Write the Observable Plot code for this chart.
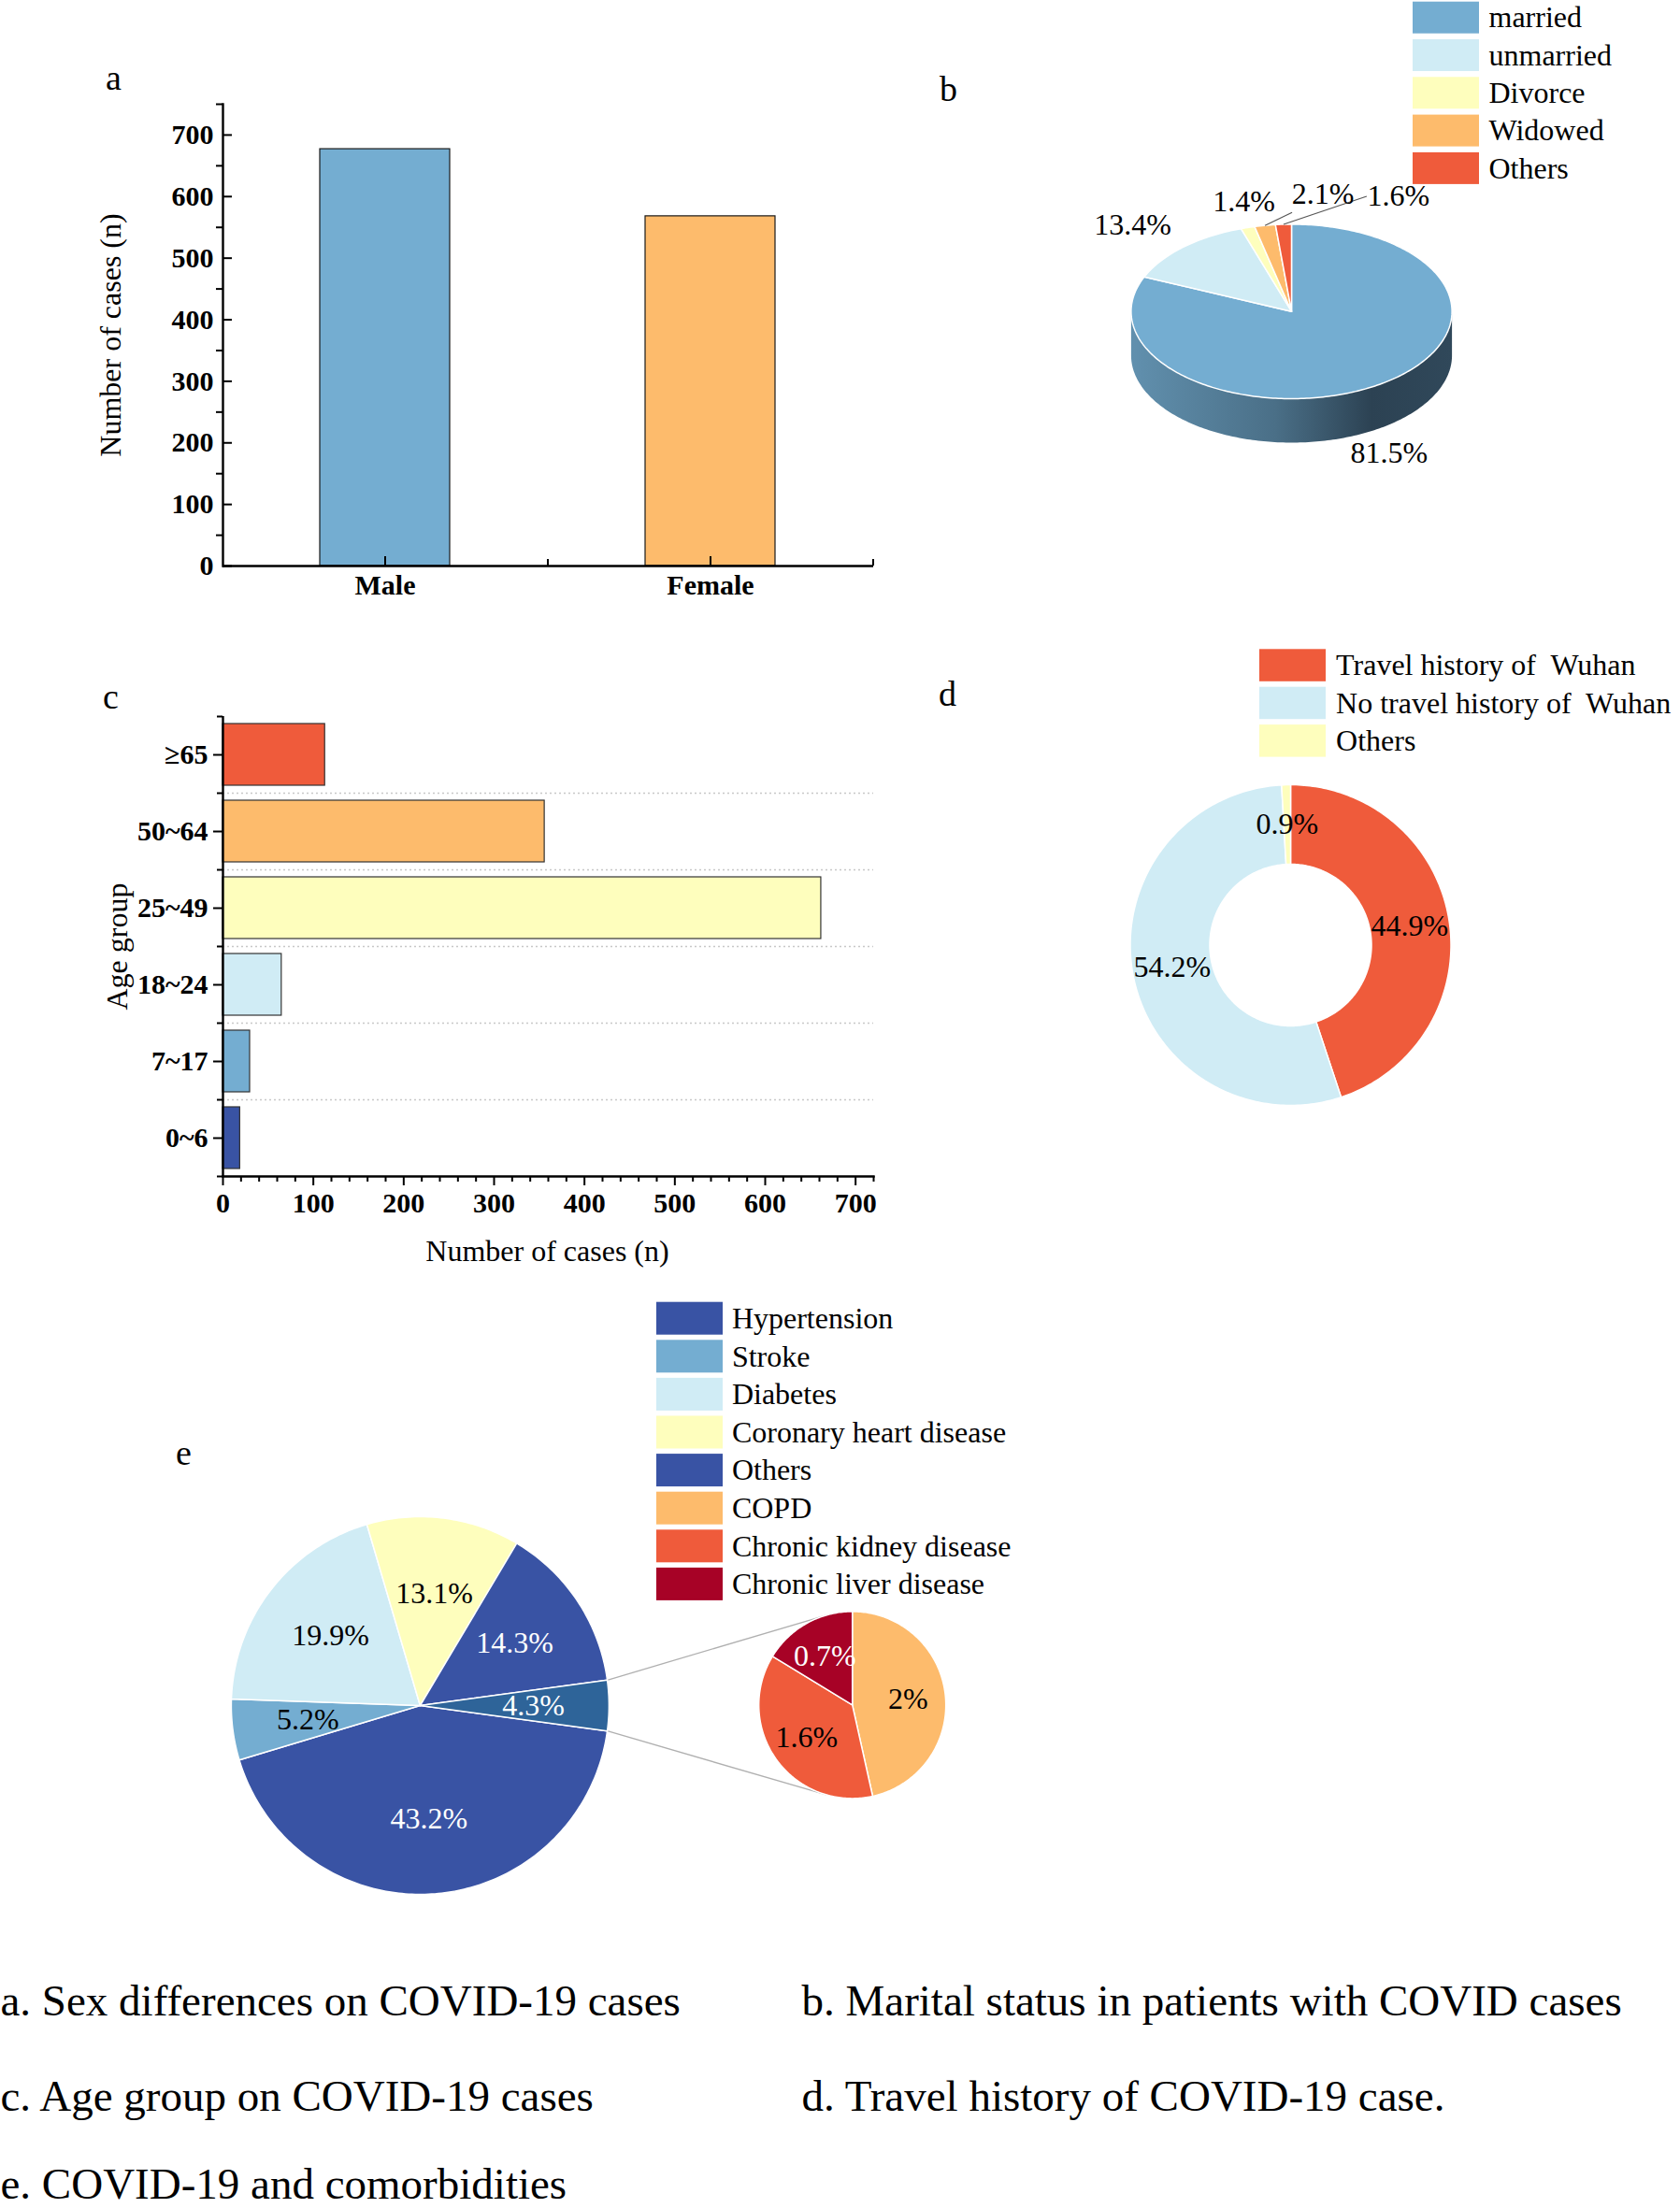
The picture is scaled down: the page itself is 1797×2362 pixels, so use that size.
<!DOCTYPE html>
<html><head><meta charset="utf-8">
<script src="https://cdn.jsdelivr.net/npm/d3@7"></script>
<script src="https://cdn.jsdelivr.net/npm/@observablehq/plot@0.6"></script>
<style>
html,body{margin:0;padding:0;background:#fff;}
#fig{position:relative;width:1797px;height:2362px;overflow:hidden;background:#fff;font-family:"Liberation Serif","Times New Roman",serif;}
svg text{white-space:pre;}
</style></head><body><div id="fig"></div>
<script>
const SERIF = '"Liberation Serif","Times New Roman",serif';

// ---------------- data ----------------
const sexCategories = ["Male", "Female"];
const sexCases = [677, 568];
const sexColors = ["#74add1", "#fdbb6c"];
const countTicks = [0, 100, 200, 300, 400, 500, 600, 700];

const ageGroups = ["0~6", "7~17", "18~24", "25~49", "50~64", "≥65"];
const ageCases = [19, 30, 65, 662, 356, 113];
const ageColors = ["#3953a4", "#74add1", "#d0ecf5", "#fefebd", "#fdbb6c", "#ef5b3b"];

const maritalLabels = ["married", "unmarried", "Divorce", "Widowed", "Others"];
const maritalPct = [81.5, 13.4, 1.4, 2.1, 1.6];
const maritalColors = ["#74add1", "#d0ecf5", "#fefebd", "#fdbb6c", "#ef5b3b"];

const travelLabels = ["Travel history of  Wuhan", "No travel history of  Wuhan", "Others"];
const travelPct = [44.9, 54.2, 0.9];
const travelColors = ["#ef5b3b", "#d0ecf5", "#fefebd"];

const comorbLabels = ["Hypertension", "Stroke", "Diabetes", "Coronary heart disease", "Others", "COPD", "Chronic kidney disease", "Chronic liver disease"];
const comorbPct = [43.2, 5.2, 19.9, 13.1, 14.3, 2, 1.6, 0.7];
const comorbColors = ["#3953a4", "#74add1", "#d0ecf5", "#fefebd", "#3953a4", "#fdbb6c", "#ef5b3b", "#a70226"];
const comorbInSubPie = [false, false, false, false, false, true, true, true];
const subPieSliceColor = "#2e6499";

const panelLetters = ["a", "b", "c", "d", "e"];
const captions = ["a. Sex differences on COVID-19 cases", "b. Marital status in patients with COVID cases",
  "c. Age group on COVID-19 cases", "d. Travel history of COVID-19 case.", "e. COVID-19 and comorbidities"];

// ---------------- layout ----------------
const L = {
  a: {left: 0, top: 60, width: 960, height: 620, mL: 238, mR: 26, mT: 51, mB: 75, yMax: 750},
  c: {left: 0, top: 740, width: 960, height: 640, mL: 238, mR: 26, mT: 26, mB: 122, xMax: 720},
  b: {cx: 1381, cy: 332.7, rx: 171.6, ry: 93.3, depth: 47},
  d: {cx: 1380, cy: 1010.5, r: 171.5, r0: 86.5},
  e: {cx: 448.9, cy: 1824, r: 202, scx: 911.2, scy: 1823.4, sr: 100},
  bLegend: {x1: 1511, x2: 1582, tx: 1592, top: 1.7, pitch: 40.3, h: 34},
  dLegend: {x1: 1347, x2: 1418, tx: 1428.6, top: 694.3, pitch: 40.4, h: 34.5},
  eLegend: {x1: 702, x2: 773, tx: 782.4, top: 1392.7, pitch: 40.6, h: 35},
  bLabelNudge: [[10, 27], [-54, -24], [-4, -28], [62, -33], [123, -30]],
  bLeaderEnd: [null, null, null, [-33, 19], [-34, 0]],
  letters: [[121, 95.4], [1014, 107.3], [118, 757], [1013, 754], [196, 1566]],
  captionPos: [[0, 2155], [857, 2155], [0, 2257], [857, 2257], [0, 2351]],
  yTitleA: [118, 358], yTitleC: [125, 1012], xTitleC: [585, 1338]
};

const fig = document.getElementById("fig");
const styleFor = (l, t) => `position:absolute;left:${l}px;top:${t}px;background:transparent;overflow:visible;font-family:${SERIF};`;

// ---------------- panel a ----------------
{
  const A = L.a, FW = A.width - A.mL - A.mR, FH = A.height - A.mT - A.mB;
  const step = FW / sexCategories.length;
  const data = sexCategories.map((c, i) => ({c, n: sexCases[i], color: sexColors[i]}));
  const minor = d3.range(50, A.yMax + 1, 100);
  fig.append(Plot.plot({
    width: A.width, height: A.height, marginLeft: A.mL, marginRight: A.mR, marginTop: A.mT, marginBottom: A.mB,
    style: styleFor(A.left, A.top),
    x: {type: "band", domain: sexCategories, paddingInner: 0.6, paddingOuter: 0.3},
    y: {domain: [0, A.yMax]},
    color: {type: "identity"},
    marks: [
      Plot.barY(data, {x: "c", y: "n", fill: "color", stroke: "#1a1a1a", strokeWidth: 1.2}),
      Plot.frame({anchor: "left", stroke: "#000", strokeWidth: 2.4}),
      Plot.ruleY([0], {stroke: "#000", strokeWidth: 2.4}),
      Plot.tickY(countTicks, {y: d => d, insetRight: FW - 10, stroke: "#000", strokeWidth: 2}),
      Plot.tickY(minor, {y: d => d, insetRight: FW - 7, dx: -7, stroke: "#000", strokeWidth: 2}),
      Plot.tickX(sexCategories, {x: d => d, insetTop: FH - 10, stroke: "#000", strokeWidth: 2}),
      Plot.tickX(sexCategories, {x: d => d, dx: step / 2, insetTop: FH - 7, stroke: "#000", strokeWidth: 2}),
      Plot.axisY({ticks: countTicks, tickSize: 0, tickPadding: 10, fontSize: 30, fontWeight: "bold", fontFamily: SERIF, label: null}),
      Plot.axisX({tickSize: 0, tickPadding: 9, fontSize: 30, fontWeight: "bold", fontFamily: SERIF, label: null})
    ]
  }));
}

// ---------------- panel c ----------------
{
  const C = L.c, FW = C.width - C.mL - C.mR, FH = C.height - C.mT - C.mB;
  const order = ageGroups.slice().reverse();
  const step = FH / ageGroups.length;
  const data = ageGroups.map((g, i) => ({g, n: ageCases[i], color: ageColors[i]}));
  const minor = d3.range(0, C.xMax + 1, 20).filter(v => v % 100 !== 0);
  fig.append(Plot.plot({
    width: C.width, height: C.height, marginLeft: C.mL, marginRight: C.mR, marginTop: C.mT, marginBottom: C.mB,
    style: styleFor(C.left, C.top),
    x: {domain: [0, C.xMax]},
    y: {type: "band", domain: order, paddingInner: 0.2, paddingOuter: 0.1},
    color: {type: "identity"},
    marks: [
      Plot.ruleY(order.slice(0, -1), {y: d => d, dy: step / 2, stroke: "#c8c8c8", strokeWidth: 1.3, strokeDasharray: "2,3"}),
      Plot.barX(data, {x: "n", y: "g", fill: "color", stroke: "#333", strokeWidth: 1.2}),
      Plot.frame({anchor: "bottom", stroke: "#000", strokeWidth: 2.4}),
      Plot.ruleX([0], {stroke: "#000", strokeWidth: 2.4}),
      Plot.tickY(order, {y: d => d, insetRight: FW - 10, dx: -10, stroke: "#000", strokeWidth: 2}),
      Plot.tickY(order, {y: d => d, dy: step / 2, insetRight: FW - 6, dx: -6, stroke: "#000", strokeWidth: 2}),
      Plot.tickY(order.slice(0, 1), {y: d => d, dy: -step / 2, insetRight: FW - 6, dx: -6, stroke: "#000", strokeWidth: 2}),
      Plot.tickX(countTicks, {x: d => d, insetTop: FH - 10, dy: 10, stroke: "#000", strokeWidth: 2}),
      Plot.tickX(minor, {x: d => d, insetTop: FH - 6, dy: 6, stroke: "#000", strokeWidth: 2}),
      Plot.axisY({tickSize: 0, tickPadding: 16, fontSize: 30, fontWeight: "bold", fontFamily: SERIF, label: null}),
      Plot.axisX({ticks: countTicks, tickSize: 0, tickPadding: 17, fontSize: 30, fontWeight: "bold", fontFamily: SERIF, label: null})
    ]
  }));
}

// ---------------- pies (overlay) ----------------
function angles(values, start = 0) {
  const tot = d3.sum(values);
  let a = start;
  return values.map(v => { const a0 = a; a += v / tot * 360; return [a0, a]; });
}
function ell(cx, cy, rx, ry, deg) {
  const a = deg * Math.PI / 180;
  return [cx + rx * Math.sin(a), cy - ry * Math.cos(a)];
}
function arcPts(cx, cy, rx, ry, a0, a1) {
  const n = Math.max(2, Math.ceil(Math.abs(a1 - a0)) + 1);
  return d3.range(n).map(i => ell(cx, cy, rx, ry, a0 + (a1 - a0) * i / (n - 1)));
}
function slicePoly(key, color, cx, cy, rx, ry, a0, a1, r0 = 0) {
  let pts;
  if (r0 > 0) {
    const k = r0 / rx;
    pts = [...arcPts(cx, cy, rx, ry, a0, a1), ...arcPts(cx, cy, rx * k, ry * k, a1, a0)];
    pts.push(pts[0]);
  } else {
    pts = [[cx, cy], ...arcPts(cx, cy, rx, ry, a0, a1), [cx, cy]];
  }
  return pts.map(([x, y]) => ({key, color, x, y}));
}
function tangentPoint(P, C, r, sign) {
  const dx = C[0] - P[0], dy = C[1] - P[1], d = Math.hypot(dx, dy);
  const a = Math.atan2(dy, dx) + sign * Math.asin(r / d), len = Math.sqrt(d * d - r * r);
  return [P[0] + len * Math.cos(a), P[1] + len * Math.sin(a)];
}
const pct = v => `${Math.round(v * 10) / 10}%`;
const textOn = c => d3.hsl(c).l < 0.5 ? "#fff" : "#000";

const marks = [];
// gradient defs for the 3D side
marks.push(() => {
  const g = d3.create("svg:g");
  const lg = g.append("defs").append("linearGradient").attr("id", "sideGrad")
    .attr("x1", 0).attr("x2", 1).attr("y1", 0).attr("y2", 0);
  [[0, "#6190ae"], [0.45, "#4a6f87"], [0.75, "#2c4253"], [1, "#30485a"]]
    .forEach(([o, c]) => lg.append("stop").attr("offset", o).attr("stop-color", c));
  return g.node();
});

// ---- panel b: 3D pie ----
{
  const B = L.b;
  const ang = angles(maritalPct, 0);
  const side = [], top = [], labels = [], leaders = [];
  ang.forEach(([a0, a1], i) => {
    const s0 = Math.max(a0, 90), s1 = Math.min(a1, 270);
    if (s1 > s0) {
      const pts = [...arcPts(B.cx, B.cy, B.rx, B.ry, s0, s1), ...arcPts(B.cx, B.cy + B.depth, B.rx, B.ry, s1, s0)];
      pts.push(pts[0]);
      pts.forEach(([x, y]) => side.push({key: maritalLabels[i], x, y}));
    }
    top.push(...slicePoly(maritalLabels[i], maritalColors[i], B.cx, B.cy, B.rx, B.ry, a0, a1));
    const m = (a0 + a1) / 2;
    const rim = ell(B.cx, B.cy, B.rx, B.ry, m);
    if (m > 90 && m < 270) rim[1] += B.depth;
    const [nx, ny] = L.bLabelNudge[i];
    const lx = rim[0] + nx, ly = rim[1] + ny;
    labels.push({x: lx, y: ly, t: pct(maritalPct[i])});
    const le = L.bLeaderEnd[i];
    if (le) leaders.push({x1: rim[0], y1: rim[1], x2: lx + le[0], y2: ly + le[1]});
  });
  marks.push(Plot.line(side, {x: "x", y: "y", z: "key", fill: "url(#sideGrad)", stroke: "none"}));
  marks.push(Plot.line(top, {x: "x", y: "y", z: "key", fill: "color", stroke: "#fff", strokeWidth: 1.5, strokeLinejoin: "round"}));
  marks.push(Plot.link(leaders, {x1: "x1", y1: "y1", x2: "x2", y2: "y2", stroke: "#555", strokeWidth: 1.2}));
  marks.push(Plot.text(labels, {x: "x", y: "y", text: "t", fontSize: 32, fontFamily: SERIF, fill: "#000"}));
}

// ---- panel d: donut ----
{
  const D = L.d;
  const ang = angles(travelPct, 0);
  const polys = [], labels = [];
  ang.forEach(([a0, a1], i) => {
    polys.push(...slicePoly(travelLabels[i], travelColors[i], D.cx, D.cy, D.r, D.r, a0, a1, D.r0));
    const [x, y] = ell(D.cx, D.cy, (D.r + D.r0) / 2, (D.r + D.r0) / 2, (a0 + a1) / 2);
    labels.push({x, y, t: pct(travelPct[i])});
  });
  marks.push(Plot.line(polys, {x: "x", y: "y", z: "key", fill: "color", stroke: "#fff", strokeWidth: 1.5, strokeLinejoin: "round"}));
  marks.push(Plot.text(labels, {x: "x", y: "y", text: "t", fontSize: 32, fontFamily: SERIF, fill: "#000"}));
}

// ---- panel e: pie of pie ----
{
  const E = L.e;
  const mainIdx = comorbPct.map((v, i) => i).filter(i => !comorbInSubPie[i]);
  const subIdx = comorbPct.map((v, i) => i).filter(i => comorbInSubPie[i]);
  const subTotal = d3.sum(subIdx, i => comorbPct[i]);
  const mainVals = [...mainIdx.map(i => comorbPct[i]), subTotal];
  const mainKeys = [...mainIdx.map(i => comorbLabels[i]), "subgroup"];
  const mainCols = [...mainIdx.map(i => comorbColors[i]), subPieSliceColor];
  const groupSpan = subTotal / d3.sum(mainVals) * 360;
  const ang = angles(mainVals, 90 + groupSpan / 2);
  const polys = [], labels = [];
  ang.forEach(([a0, a1], i) => {
    polys.push(...slicePoly(mainKeys[i], mainCols[i], E.cx, E.cy, E.r, E.r, a0, a1));
    const [x, y] = ell(E.cx, E.cy, E.r * 0.6, E.r * 0.6, (a0 + a1) / 2);
    labels.push({x, y, t: pct(mainVals[i]), c: textOn(mainCols[i])});
  });
  const subAng = angles(subIdx.map(i => comorbPct[i]), 0);
  subAng.forEach(([a0, a1], j) => {
    const i = subIdx[j];
    polys.push(...slicePoly(comorbLabels[i] + "-sub", comorbColors[i], E.scx, E.scy, E.sr, E.sr, a0, a1));
    const [x, y] = ell(E.scx, E.scy, E.sr * 0.6, E.sr * 0.6, (a0 + a1) / 2);
    labels.push({x, y, t: pct(comorbPct[i]), c: textOn(comorbColors[i])});
  });
  const [g0, g1] = ang[ang.length - 1];
  const P1 = ell(E.cx, E.cy, E.r, E.r, g0), P2 = ell(E.cx, E.cy, E.r, E.r, g1);
  const T1 = tangentPoint(P1, [E.scx, E.scy], E.sr, -1), T2 = tangentPoint(P2, [E.scx, E.scy], E.sr, 1);
  const links = [{x1: P1[0], y1: P1[1], x2: T1[0], y2: T1[1]}, {x1: P2[0], y1: P2[1], x2: T2[0], y2: T2[1]}];
  marks.push(Plot.link(links, {x1: "x1", y1: "y1", x2: "x2", y2: "y2", stroke: "#b0b0b0", strokeWidth: 1.3}));
  marks.push(Plot.line(polys, {x: "x", y: "y", z: "key", fill: "color", stroke: "#fff", strokeWidth: 1.5, strokeLinejoin: "round"}));
  marks.push(Plot.text(labels, {x: "x", y: "y", text: "t", fill: "c", fontSize: 32, fontFamily: SERIF}));
}

// ---- legends ----
function legendRows(labels, colors, cfg) {
  return labels.map((t, i) => ({t, color: colors[i], x1: cfg.x1, x2: cfg.x2,
    y1: cfg.top + i * cfg.pitch, y2: cfg.top + i * cfg.pitch + cfg.h, tx: cfg.tx, ty: cfg.top + i * cfg.pitch + cfg.h / 2}));
}
const legends = [
  ...legendRows(maritalLabels, maritalColors, L.bLegend),
  ...legendRows(travelLabels, travelColors, L.dLegend),
  ...legendRows(comorbLabels, comorbColors, L.eLegend)
];
marks.push(Plot.rect(legends, {x1: "x1", x2: "x2", y1: "y1", y2: "y2", fill: "color"}));
marks.push(Plot.text(legends, {x: "tx", y: "ty", text: "t", textAnchor: "start", fontSize: 32, fontFamily: SERIF, fill: "#000"}));

// ---- panel letters, axis titles, captions ----
marks.push(Plot.text(panelLetters, {x: (d, i) => L.letters[i][0], y: (d, i) => L.letters[i][1], text: d => d,
  lineAnchor: "bottom", fontSize: 38, fontFamily: SERIF, fill: "#000"}));
marks.push(Plot.text(["Number of cases (n)"], {x: L.yTitleA[0], y: L.yTitleA[1], text: d => d, rotate: -90, fontSize: 32, fontFamily: SERIF, fill: "#000"}));
marks.push(Plot.text(["Age group"], {x: L.yTitleC[0], y: L.yTitleC[1], text: d => d, rotate: -90, fontSize: 32, fontFamily: SERIF, fill: "#000"}));
marks.push(Plot.text(["Number of cases (n)"], {x: L.xTitleC[0], y: L.xTitleC[1], text: d => d, fontSize: 32, fontFamily: SERIF, fill: "#000"}));
marks.push(Plot.text(captions, {x: (d, i) => L.captionPos[i][0], y: (d, i) => L.captionPos[i][1], text: d => d,
  textAnchor: "start", lineAnchor: "bottom", fontSize: 47, fontFamily: SERIF, fill: "#000"}));

fig.append(Plot.plot({
  width: 1797, height: 2362, margin: 0,
  style: styleFor(0, 0),
  x: {type: "linear", domain: [0, 1797], range: [0, 1797], axis: null},
  y: {type: "linear", domain: [0, 2362], range: [0, 2362], axis: null},
  color: {type: "identity"},
  marks
}));
</script></body></html>
